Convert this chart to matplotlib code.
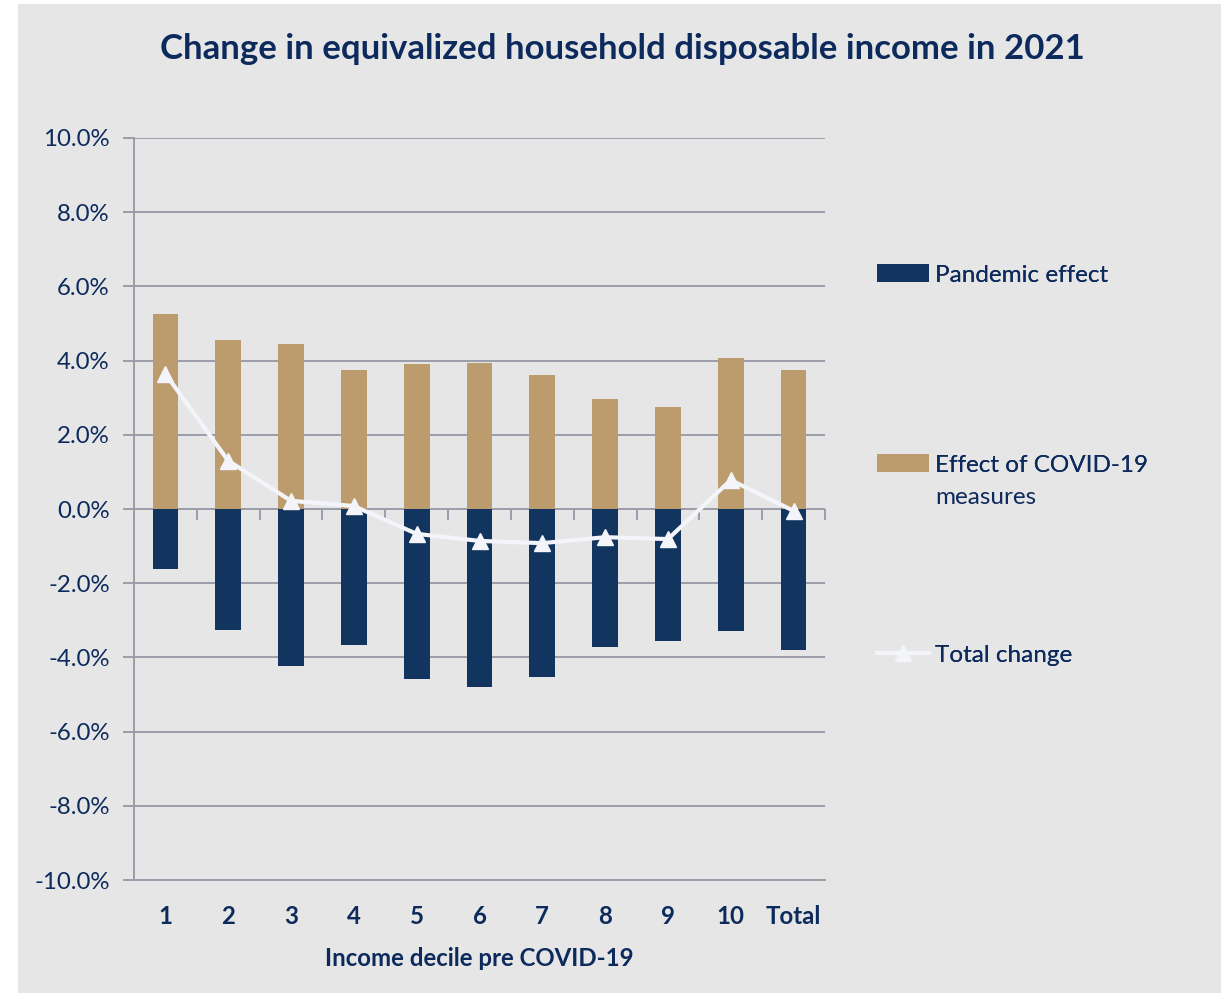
import matplotlib.pyplot as plt
import matplotlib.patches as patches
from matplotlib.ticker import FuncFormatter

# values (percent)
deciles = ["1", "2", "3", "4", "5", "6", "7", "8", "9", "10", "Total"]
pandemic = [-1.62, -3.26, -4.23, -3.67, -4.58, -4.80, -4.53, -3.72, -3.56, -3.29, -3.80]
measures = [5.26, 4.56, 4.45, 3.75, 3.91, 3.94, 3.61, 2.96, 2.75, 4.07, 3.75]
total = [3.64, 1.30, 0.22, 0.08, -0.67, -0.86, -0.92, -0.76, -0.81, 0.78, -0.05]

navy = "#12355f"
gold = "#bc9c6c"
txt = "#0d2a5c"
grid = "#9b9dab"
bg = "#e6e6e6"

plt.rcParams['font.family'] = ['Lato', 'DejaVu Sans']

fig = plt.figure(figsize=(12.21, 9.97), dpi=100, facecolor="white")
fig.add_artist(patches.Rectangle((18/1221, 4/997), 1 - 18/1221, 1 - 8/997,
                                 transform=fig.transFigure, facecolor=bg,
                                 edgecolor="none", zorder=-10))

ax = fig.add_axes([134/1221, 1 - 880/997, (825 - 134)/1221, (880 - 138)/997])
ax.set_facecolor(bg)

x = list(range(len(deciles)))
w = 0.41
b1 = ax.bar(x, pandemic, width=w, color=navy, zorder=3)
b2 = ax.bar(x, measures, width=w, color=gold, zorder=3)
ln, = ax.plot(x, total, color="#f3f5fa", lw=3, marker="^", markersize=11, zorder=4)

ax.set_xlim(-0.5, len(deciles) - 0.5)
ax.set_ylim(-10, 10)
ax.set_yticks(range(-10, 11, 2))
ax.yaxis.set_major_formatter(FuncFormatter(lambda v, p: f"{v:.1f}%"))
ax.grid(axis="y", color=grid, lw=1.4, zorder=0)
ax.tick_params(axis="y", length=8, width=1.4, color=grid, labelsize=17.3,
               labelcolor=txt, pad=9.5)
ax.set_xticks(x)
ax.set_xticklabels(deciles, fontweight="bold")
ax.tick_params(axis="x", length=0, labelsize=17.3, labelcolor=txt, pad=18)
for s in ["top", "right"]:
    ax.spines[s].set_visible(False)
ax.spines["left"].set_color(grid)
ax.spines["left"].set_linewidth(1.4)
ax.spines["bottom"].set_color(grid)
ax.spines["bottom"].set_linewidth(1.4)

# category tick marks on the zero line
sec = ax.secondary_xaxis(0.5)
sec.set_xticks([i - 0.5 for i in range(len(deciles) + 1)])
sec.set_xticklabels([])
sec.tick_params(axis="x", length=8, width=1.4, color=grid, direction="in")
for s in sec.spines.values():
    s.set_visible(False)

ax.set_xlabel("Income decile pre COVID-19", fontsize=17.3, fontweight="bold",
              color=txt, labelpad=14)
fig.text(0.51, 0.951, "Change in equivalized household disposable income in 2021",
         ha="center", va="center", fontsize=25, fontweight="bold", color=txt)

# legend entries, spaced as in the original
entries = [(b1, "Pandemic effect", 0.724),
           (b2, "Effect of COVID-19", 0.5336),
           (ln, "Total change", 0.343)]
for h, l, yy in entries:
    leg = fig.legend([h], [l], loc="center left", bbox_to_anchor=(877/1221, yy),
                     frameon=False, fontsize=17.5, labelcolor=txt,
                     handlelength=2.15, handleheight=0.75, handletextpad=0.25,
                     borderpad=0, borderaxespad=0)
    fig.add_artist(leg)
fig.text(935/1221, 0.5336 - 32/997, "measures", ha="left", va="center",
         fontsize=17.5, color=txt)

fig.savefig("out.png", dpi=100, facecolor="white")
